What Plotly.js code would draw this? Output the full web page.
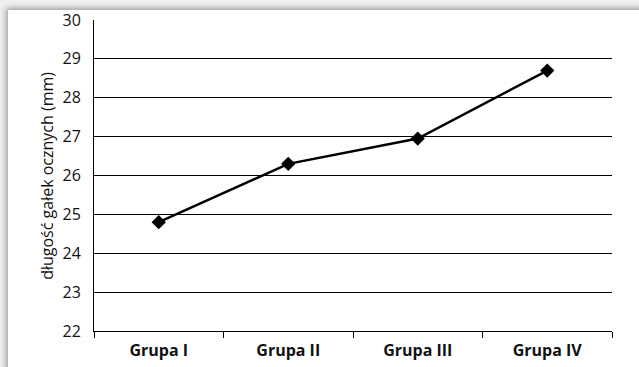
<!DOCTYPE html>
<html>
<head>
<meta charset="utf-8">
<script src="https://cdn.plot.ly/plotly-3.0.1.min.js"></script>
<style>
html,body{margin:0;padding:0;background:#e6e6e6;}
#wrap{position:absolute;left:0;top:0;width:639px;height:367px;overflow:hidden;background:#f0f0f0;}
#card{position:absolute;left:8px;top:10px;width:700px;height:400px;background:#fff;box-shadow:-2px -2px 6px rgba(0,0,0,0.35);}
#chart{position:absolute;left:0;top:0;width:639px;height:367px;}
</style>
</head>
<body>
<div id="wrap"><div id="card"></div><div id="chart"></div></div>
<script>
const categories = ["Grupa I", "Grupa II", "Grupa III", "Grupa IV"];
const values = [24.8, 26.3, 26.95, 28.7];
const yTicks = [22, 23, 24, 25, 26, 27, 28, 29, 30];
const yTitle = "długość gałek ocznych (mm)";

const trace = {
  x: categories, y: values, type: "scatter", mode: "lines+markers",
  line: {color: "#000", width: 2.5},
  marker: {symbol: "diamond", size: 11, color: "#000"},
  hoverinfo: "skip"
};
const layout = {
  width: 639, height: 367,
  margin: {l: 94, r: 27, t: 20, b: 36},
  paper_bgcolor: "rgba(0,0,0,0)", plot_bgcolor: "rgba(0,0,0,0)",
  showlegend: false,
  font: {family: "Open Sans, sans-serif", color: "#111"},
  xaxis: {
    type: "category", tickson: "boundaries", ticks: "outside", ticklen: 6,
    range: [-0.5, categories.length - 0.5],
    tickcolor: "#000", tickwidth: 1, showline: true, linecolor: "#000", linewidth: 1,
    showgrid: false, zeroline: false, fixedrange: true,
    tickfont: {size: 16, family: "Open Sans, sans-serif", weight: "bold", color: "#111"},
    ticklabelstandoff: 5
  },
  yaxis: {
    range: [22, 30], tickvals: yTicks, ticktext: yTicks.map(String),
    showline: true, linecolor: "#000", linewidth: 1, ticks: "",
    showgrid: true, gridcolor: "#000", gridwidth: 1, zeroline: false,
    tickfont: {size: 16, color: "#111"}, ticklabelstandoff: 9,
    fixedrange: true
  },
  annotations: [{
    text: yTitle, textangle: -90, showarrow: false,
    xref: "paper", yref: "paper", x: -0.092, y: 0.5,
    xanchor: "center", yanchor: "middle",
    font: {size: 16, color: "#111"}
  }]
};
Plotly.newPlot("chart", [trace], layout, {displayModeBar: false, staticPlot: true});
</script>
</body>
</html>
